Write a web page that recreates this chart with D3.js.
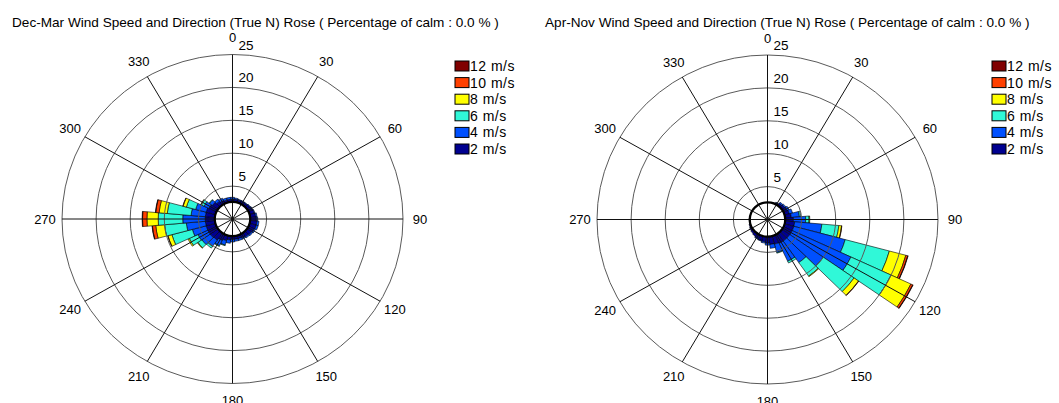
<!DOCTYPE html>
<html>
<head>
<meta charset="utf-8">
<script src="https://cdn.jsdelivr.net/npm/d3@7"></script>
<style>
  body { margin: 0; background: #fff; }
  svg { display: block; }
  text { font-family: Arial, "Liberation Sans", sans-serif; fill: #000; }
</style>
</head>
<body>
<svg id="chart" width="1059" height="403"></svg>
<script>
// Direction bins (degrees from true north, clockwise), 10 degree sectors
const directions = [0, 10, 20, 30, 40, 50, 60, 70, 80, 90, 100, 110,
  120, 130, 140, 150, 160, 170, 180, 190, 200, 210, 220, 230,
  240, 250, 260, 270, 280, 290, 300, 310, 320, 330, 340, 350];

// Speed classes, innermost first
const speedClasses = ["2 m/s", "4 m/s", "6 m/s", "8 m/s", "10 m/s", "12 m/s"];
const classColors = ["#000090", "#0050ff", "#30f8d8", "#ffff00", "#ff4000", "#800000"];

// Radial rings (percentage of observations) and compass labels
const ringValues = [5, 10, 15, 20, 25];
const spokeAngles = [0, 30, 60, 90, 120, 150, 180, 210, 240, 270, 300, 330];

// Dec-Mar frequency (%) per direction bin, one array per speed class
const decMar2  = [3.0, 3.0, 3.0, 3.0, 3.0, 3.1, 3.2, 3.3, 3.4, 3.5, 3.6, 3.6,
                  3.5, 3.4, 3.3, 3.2, 3.1, 3.1, 3.1, 3.2, 3.4, 3.6, 3.9, 4.0,
                  4.0, 4.0, 4.0, 4.0, 4.0, 4.0, 3.8, 3.6, 3.3, 3.1, 3.0, 3.0];
const decMar4  = [0.3, 0.2, 0.1, 0.1, 0.1, 0.1, 0.1, 0.1, 0.2, 0.2, 0.3, 0.3,
                  0.2, 0.2, 0.2, 0.2, 0.3, 0.3, 0.4, 0.5, 0.7, 0.9, 1.2, 1.5,
                  1.6, 2.1, 2.8, 3.3, 2.1, 1.6, 0.8, 0.5, 0.4, 0.4, 0.3, 0.3];
const decMar6  = [0, 0, 0, 0, 0, 0, 0, 0, 0, 0, 0, 0,
                  0, 0, 0, 0, 0, 0, 0, 0, 0.1, 0.1, 0.3, 0.7,
                  1.4, 3.1, 3.2, 3.6, 3.5, 1.4, 0.5, 0.1, 0, 0, 0, 0];
const decMar8  = [0, 0, 0, 0, 0, 0, 0, 0, 0, 0, 0, 0,
                  0, 0, 0, 0, 0, 0, 0, 0, 0, 0, 0, 0.1,
                  0.2, 0.6, 1.3, 1.65, 1.2, 0.5, 0.05, 0, 0, 0, 0, 0];
const decMar10 = [0, 0, 0, 0, 0, 0, 0, 0, 0, 0, 0, 0,
                  0, 0, 0, 0, 0, 0, 0, 0, 0, 0, 0, 0,
                  0, 0.05, 0.5, 0.65, 0.5, 0.05, 0, 0, 0, 0, 0, 0];
const decMar12 = [0, 0, 0, 0, 0, 0, 0, 0, 0, 0, 0, 0,
                  0, 0, 0, 0, 0, 0, 0, 0, 0, 0, 0, 0,
                  0, 0, 0.05, 0.06, 0.05, 0, 0, 0, 0, 0, 0, 0];

// Apr-Nov frequency (%) per direction bin, one array per speed class
const aprNov2  = [2.6, 2.6, 2.7, 2.8, 3.0, 3.1, 3.2, 3.3, 3.5, 3.8, 4.0, 4.0,
                  4.0, 4.0, 4.0, 4.0, 3.9, 3.8, 3.6, 3.4, 3.3, 3.2, 3.1, 3.0,
                  2.9, 2.8, 2.7, 2.7, 2.6, 2.6, 2.6, 2.6, 2.6, 2.6, 2.6, 2.6];
const aprNov4  = [0, 0, 0, 0.1, 0.2, 0.2, 0.3, 0.5, 1.2, 1.8, 4.0, 7.8,
                  9.5, 6.0, 4.0, 3.0, 1.3, 0.6, 0.3, 0.2, 0.1, 0.1, 0, 0,
                  0, 0, 0, 0, 0, 0, 0, 0, 0, 0, 0, 0];
const aprNov6  = [0, 0, 0, 0, 0, 0, 0, 0, 0.2, 0.5, 2.5, 6.7,
                  6.5, 5.5, 2.5, 0.3, 0.1, 0, 0, 0, 0, 0, 0, 0,
                  0, 0, 0, 0, 0, 0, 0, 0, 0, 0, 0, 0];
const aprNov8  = [0, 0, 0, 0, 0, 0, 0, 0, 0, 0.1, 0.4, 2.5,
                  3.2, 0.8, 0.1, 0, 0, 0, 0, 0, 0, 0, 0, 0,
                  0, 0, 0, 0, 0, 0, 0, 0, 0, 0, 0, 0];
const aprNov10 = [0, 0, 0, 0, 0, 0, 0, 0, 0, 0, 0.05, 0.3,
                  0.3, 0.05, 0, 0, 0, 0, 0, 0, 0, 0, 0, 0,
                  0, 0, 0, 0, 0, 0, 0, 0, 0, 0, 0, 0];
const aprNov12 = [0, 0, 0, 0, 0, 0, 0, 0, 0, 0, 0, 0.05,
                  0.06, 0, 0, 0, 0, 0, 0, 0, 0, 0, 0, 0,
                  0, 0, 0, 0, 0, 0, 0, 0, 0, 0, 0, 0];

const calmPct = 0.0;
const roses = [
  { title: `Dec-Mar Wind Speed and Direction (True N) Rose ( Percentage of calm : ${calmPct.toFixed(1)} % )`,
    series: [decMar2, decMar4, decMar6, decMar8, decMar10, decMar12],
    cx: 232.5, cy: 219, titleX: 12, legendX: 455 },
  { title: `Apr-Nov Wind Speed and Direction (True N) Rose ( Percentage of calm : ${calmPct.toFixed(1)} % )`,
    series: [aprNov2, aprNov4, aprNov6, aprNov8, aprNov10, aprNov12],
    cx: 767.5, cy: 219.5, titleX: 545, legendX: 992 }
];

const rx = 170.5, ry = 164.5;      // the plot area is slightly wider than tall
const rMax = 25, hole = 2.6;       // hole = inner empty circle (in % units)
const rScale = d3.scaleLinear().domain([0, rMax]).range([0, rx]);
const toRad = d => d * Math.PI / 180;

const svg = d3.select("#chart");
svg.append("rect").attr("width", 1059).attr("height", 403).attr("fill", "#fff");

roses.forEach(rose => {
  const root = svg.append("g");

  // title
  root.append("text")
    .attr("x", rose.titleX).attr("y", 27)
    .style("font-size", "13.6px")
    .text(rose.title);

  // polar plot group, squashed vertically into an ellipse
  const g = root.append("g")
    .attr("transform", `translate(${rose.cx},${rose.cy}) scale(1,${ry / rx})`);

  const arc = d3.arc();
  const half = 5;

  // stacked sectors
  directions.forEach((dir, i) => {
    let cum = 0;
    rose.series.forEach((vals, k) => {
      const lo = cum, hi = cum + vals[i];
      cum = hi;
      if (vals[i] <= 0 || hi <= hole) return;
      g.append("path")
        .attr("d", arc({
          innerRadius: rScale(Math.max(lo, hole)),
          outerRadius: rScale(hi),
          startAngle: toRad(dir - half),
          endAngle: toRad(dir + half)
        }))
        .attr("fill", classColors[k])
        .attr("stroke", "#000")
        .attr("stroke-width", 0.6)
        .attr("vector-effect", "non-scaling-stroke");
    });
  });

  // rings
  g.selectAll("circle.ring").data(ringValues).enter().append("circle")
    .attr("class", "ring")
    .attr("r", d => rScale(d))
    .attr("fill", "none")
    .attr("stroke", "#5a5a5a")
    .attr("stroke-width", 1)
    .attr("vector-effect", "non-scaling-stroke");

  // spokes
  g.selectAll("line.spoke").data(spokeAngles).enter().append("line")
    .attr("class", "spoke")
    .attr("x1", 0).attr("y1", 0)
    .attr("x2", d => rScale(rMax) * Math.sin(toRad(d)))
    .attr("y2", d => -rScale(rMax) * Math.cos(toRad(d)))
    .attr("stroke", "#111")
    .attr("stroke-width", 1)
    .attr("vector-effect", "non-scaling-stroke");

  // inner hole outline
  g.append("circle")
    .attr("r", rScale(hole))
    .attr("fill", "none")
    .attr("stroke", "#000")
    .attr("stroke-width", 2.2)
    .attr("vector-effect", "non-scaling-stroke");

  // compass labels
  const off = 17;
  root.selectAll("text.ang").data(spokeAngles).enter().append("text")
    .attr("class", "ang")
    .attr("x", d => rose.cx + (rx + off) * Math.sin(toRad(d)))
    .attr("y", d => rose.cy - (ry + off) * Math.cos(toRad(d)))
    .attr("text-anchor", "middle")
    .attr("dominant-baseline", "central")
    .style("font-size", "13px")
    .text(d => d);

  // ring value labels along north axis
  root.selectAll("text.rv").data(ringValues).enter().append("text")
    .attr("class", "rv")
    .attr("x", rose.cx + 6)
    .attr("y", d => rose.cy - rScale(d) * ry / rx - 5)
    .style("font-size", "13.5px")
    .text(d => d);

  // legend, largest class on top
  const legend = root.append("g").attr("transform", `translate(${rose.legendX},66)`);
  const order = d3.range(speedClasses.length).reverse();
  order.forEach((k, row) => {
    const y = row * 16.6;
    legend.append("rect")
      .attr("x", 0).attr("y", y - 5)
      .attr("width", 14).attr("height", 10)
      .attr("fill", classColors[k])
      .attr("stroke", "#000").attr("stroke-width", 1);
    legend.append("text")
      .attr("x", 15).attr("y", y)
      .attr("dominant-baseline", "central")
      .style("font-size", "14px")
      .style("letter-spacing", "0.5px")
      .text(speedClasses[k]);
  });
});
</script>
</body>
</html>
